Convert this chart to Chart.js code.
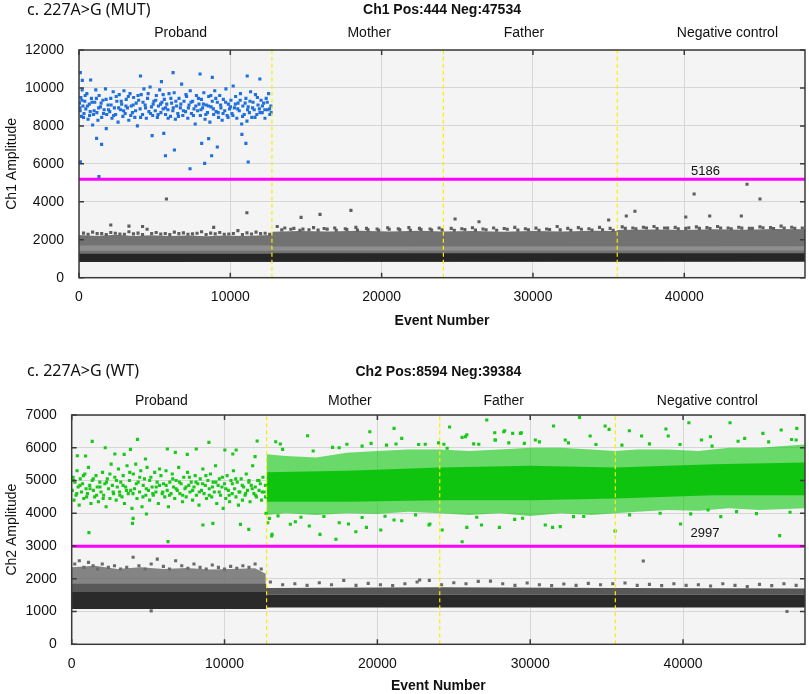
<!DOCTYPE html>
<html>
<head>
<meta charset="utf-8">
<title>c. 227A>G ddPCR</title>
<script src="https://cdn.jsdelivr.net/npm/chart.js@4.4.1/dist/chart.umd.min.js"></script>
<style>
    body { margin: 0; background: #fff; }
    canvas { position: absolute; left: 0; }
    #ch1 { top: 0; }
    #ch2 { top: 340px; }
</style>
</head>
<body>
<canvas id="ch1" width="809" height="340"></canvas>
<canvas id="ch2" width="809" height="354"></canvas>
<script>
const eventMax = 47978;
const dividers = [12750, 24080, 35570];
const sections = ["Proband", "Mother", "Father", "Negative control"];
const xTickValues = [0, 10000, 20000, 30000, 40000];
const ch1TickValues = [0, 2000, 4000, 6000, 8000, 10000, 12000];
const ch2TickValues = [0, 1000, 2000, 3000, 4000, 5000, 6000, 7000];
const ch1Threshold = 5186;
const ch2Threshold = 2997;
const ch1Label = "c. 227A>G (MUT)";
const ch2Label = "c. 227A>G (WT)";
const ch1Title = "Ch1 Pos:444 Neg:47534";
const ch2Title = "Ch2 Pos:8594 Neg:39384";

// Ch1 positive droplets (blue)
const ch1Positive = [
    [30,9200],[80,8800],[120,9500],[160,8500],[210,9900],[260,9050],[330,8650],[380,9300],[450,8900],[520,9700],[600,8350],[680,9150],[740,8750],[820,9450],[900,8050],[960,8600],
    [1040,9250],[1110,9900],[1180,8700],[1250,8300],[1330,9600],[1420,9000],[1500,8450],[1580,9350],[1660,8850],[1750,9950],[1830,8600],[1920,9100],
    [2030,8750],[2100,9450],[2180,8400],[2260,9800],[2340,8950],[2420,8600],[2500,9300],[2580,8200],[2660,9650],[2740,8850],[2820,9150],[2900,8500],[2970,9850],
    [3050,8650],[3120,9400],[3200,8950],[3290,8300],[3370,9700],[3450,9050],[3530,8700],[3610,9500],[3690,8450],[3780,9200],[3860,8000],[3940,9350],
    [4040,8900],[4110,9650],[4200,8600],[4290,9950],[4370,9100],[4450,8400],[4530,9450],[4620,8750],[4700,10050],[4790,9000],[4870,8550],[4950,9300],
    [5040,8800],[5110,9600],[5180,8450],[5250,9050],[5330,9900],[5410,8700],[5480,9250],[5560,8900],[5640,9400],[5720,8600],[5800,9150],[5880,8850],[5950,9700],
    [6050,8500],[6120,9200],[6200,8800],[6290,9750],[6370,8350],[6450,9050],[6530,8650],[6610,9450],[6700,8950],[6780,10200],[6860,8550],[6940,9300],
    [7040,8750],[7110,9550],[7190,8400],[7270,9100],[7350,9850],[7430,8650],[7510,9300],[7600,8900],[7680,8100],[7760,9600],[7840,8800],[7930,9150],
    [8020,8550],[8090,9400],[8170,8950],[8250,9750],[8330,8350],[8410,9100],[8490,8700],[8570,9550],[8650,8200],[8730,9000],[8810,9300],[8900,8600],[8970,9850],
    [9060,8750],[9140,9250],[9220,8450],[9300,9600],[9380,8950],[9460,8300],[9540,9400],[9630,8800],[9710,9950],[9790,8550],[9870,9150],[9950,8900],
    [10040,9350],[10110,8650],[10190,10100],[10270,8950],[10350,9550],[10430,8400],[10510,9200],[10590,8800],[10670,9700],[10750,8100],[10830,9050],[10920,8600],
    [11030,9450],[11100,8250],[11180,9000],[11260,8700],[11340,9800],[11420,8450],[11500,9250],[11580,8850],[11660,9650],[11750,8600],[11830,9100],[11920,8900],
    [12030,9350],[12110,8700],[12200,9200],[12290,8400],[12370,9450],[12450,8850],[12530,9700],[12610,8600],[12680,9050],
    [60,8950],[190,9350],[300,8450],[410,9600],[560,9050],[700,8550],[860,9250],[1000,8800],[1150,9450],[1300,8950],[1460,9200],[1620,8650],
    [1790,9400],[1950,8850],[2120,9100],[2290,8550],[2460,9550],[2620,8950],[2790,9300],[2950,8800],[3100,9050],[3260,9550],[3420,8550],
    [3580,9100],[3740,8800],[3900,9600],[4070,8450],[4230,9250],[4400,8950],[4570,9700],[4730,8650],[4900,9150],[5070,9350],[5230,8600],
    [5390,9150],[5560,9650],[5720,8950],[5890,8400],[6070,9450],[6230,8950],[6400,9300],[6570,8500],[6730,9150],[6900,8800],[7070,9650],
    [7230,8950],[7400,9250],[7560,8550],[7720,9050],[7890,9450],[8060,8850],[8220,9150],[8380,8600],[8550,9050],[8710,9600],[8880,8900],
    [9040,9450],[9200,8700],[9360,9100],[9520,8650],[9690,9250],[9850,8450],[10010,9000],[10170,8550],[10330,9150],[10490,8900],[10650,9350],
    [10810,8500],[10980,9200],[11140,8850],[11300,9300],[11470,8950],[11630,8450],[11790,9500],[11960,8700],[12120,9050],[12280,8850],
    [12440,9250],[12600,8900],[12700,8700],
    [90,6114],[1318,5324],[1494,7028],[1164,7344],[1802,7854],[4833,7485],[5712,6430],[6305,6729],[5602,7608],[7338,5745],
    [8107,7080],[8305,6026],[8568,7327],[8766,6430],[9140,6887],[11029,7080],[11183,6097],[10765,7555],[90,10806],[6217,10806],
    [8000,10735],[11117,10630],[4064,10630],[220,10400],[769,10419],[5448,10331],[8810,10560],[11952,10472]
];

// Ch1 negative droplets above the main band, plus the ragged top of the band
const ch1NegativeStray = [
    [5778,4147],[11095,3426],[14676,3180],[15928,3338],[17971,3549],[40650,4411],[44146,4922],[45003,4148],[36738,3499],[36168,3252],
    [40099,3199],[41681,3252],[43770,3252],[24852,3094],[26434,2952],[35003,3041],[4200,2700],[8900,2650],[2100,2780],[3300,2720],
    [300,2350],[900,2400],[1500,2320],[2100,2380],[2700,2300],[3300,2420],[3900,2350],[4500,2550],[5100,2380],[5700,2330],[6300,2400],
    [6900,2360],[7500,2310],[8100,2420],[8700,2350],[9300,2380],[9900,2300],[10500,2480],[11100,2360],[11700,2400],[12300,2340],
    [600,2290],[1200,2320],[1800,2280],[2400,2340],[3000,2290],[3600,2310],[4200,2280],[4800,2330],[5400,2300],[6000,2270],[6600,2320],
    [7200,2290],[7800,2340],[8400,2280],[9000,2310],[9600,2290],[10200,2330],[10800,2280],[11400,2300],[12000,2320],[12600,2290],
    [13100,2700],[13600,2620],[14200,2600],[14800,2560],[15500,2640],[16200,2590],[16900,2620],[17600,2580],[18300,2650],[19000,2600],
    [19700,2570],[20400,2630],[21100,2580],[21800,2640],[22500,2600],[23200,2570],[23800,2620],
    [24600,2600],[25300,2580],[26000,2630],[26700,2570],[27400,2620],[28100,2590],[28800,2650],[29500,2580],[30200,2610],[30900,2570],
    [31600,2700],[32300,2600],[33000,2640],[33700,2580],[34400,2650],[35100,2600],
    [13400,2520],[14000,2550],[14600,2500],[15200,2530],[15800,2510],[16400,2560],[17000,2500],[17700,2540],[18400,2510],[19100,2530],
    [19800,2500],[20500,2550],[21200,2520],[21900,2500],[22600,2540],[23300,2510],[24000,2520],[24800,2500],[25500,2540],[26200,2510],
    [26900,2530],[27600,2500],[28300,2550],[29000,2510],[29700,2530],[30400,2500],[31100,2540],[31800,2520],[32500,2500],[33200,2550],
    [33900,2510],[34600,2530],[35300,2500],
    [35900,2680],[36600,2620],[37300,2660],[38000,2700],[38700,2620],[39400,2650],[40100,2600],[40800,2680],[41500,2640],[42200,2700],
    [42900,2620],[43600,2660],[44300,2600],[45000,2680],[45700,2640],[46400,2720],[47100,2660],[47800,2620],
    [36100,2600],[36800,2580],[37500,2620],[38200,2590],[38900,2610],[39600,2580],[40300,2630],[41000,2600],[41700,2590],[42400,2620],
    [43100,2580],[43800,2610],[44500,2600],[45200,2630],[45900,2590],[46600,2620],[47300,2600]
];

// Ch1 dense negative cloud, as band edges
const ch1GrayTop = [[0,2250],[1200,2200],[2400,2260],[3600,2200],[4800,2240],[6000,2200],[7200,2230],[8400,2190],[9600,2230],[10800,2200],[12700,2250],
    [12800,2420],[14500,2460],[16500,2430],[18500,2470],[20500,2440],[22500,2470],[24000,2430],[26000,2460],[28000,2420],[30000,2460],
    [32000,2440],[34000,2480],[35500,2460],[35600,2520],[38000,2540],[40000,2510],[42000,2550],[44000,2530],[46000,2570],[47978,2550]];
const ch1GrayBase = [[0,1250],[47978,1250]];
const ch1GapTop = [[0,1700],[12750,1700],[12800,1640],[47978,1660]];
const ch1GapBase = [[0,1420],[47978,1440]];
const ch1CoreTop = [[0,1260],[12750,1260],[12800,1290],[47978,1290]];
const ch1CoreBase = [[0,830],[47978,840]];

// Ch2 positive droplets in the proband panel (green)
const ch2ProbandPositive = [
    [40,4700],[90,5100],[150,4400],[210,4950],[280,4550],[350,5300],[420,4800],[490,4250],[560,5050],[640,4650],[710,4900],[790,4450],[860,5200],[940,4750],
    [1030,4600],[1100,5400],[1180,4850],[1260,4300],[1340,5000],[1420,4700],[1500,4500],[1590,5150],[1670,4800],[1750,4350],[1840,4950],[1920,4650],
    [2020,5250],[2090,4550],[2170,4900],[2250,4200],[2330,5050],[2410,4750],[2500,4450],[2580,5500],[2660,4850],[2740,4600],[2820,5100],[2910,4400],[2980,4800],
    [3060,5350],[3130,4650],[3210,4950],[3290,4500],[3370,5150],[3450,4300],[3530,4800],[3620,5450],[3700,4600],[3780,5000],[3860,4700],[3940,4150],
    [4030,5200],[4110,4750],[4190,5500],[4270,4450],[4350,4950],[4440,4650],[4520,5300],[4600,4200],[4680,4850],[4760,5050],[4850,4550],[4930,5400],
    [5020,4700],[5100,4400],[5180,5100],[5260,4800],[5340,4550],[5430,5250],[5510,4650],[5590,4950],[5670,4300],[5750,4850],[5840,5150],[5920,4600],
    [6010,4900],[6090,4500],[6170,5300],[6250,4700],[6330,4200],[6420,4950],[6500,4600],[6580,5200],[6660,4800],[6740,4450],[6830,5000],[6910,4700],
    [7000,5400],[7080,4600],[7160,4900],[7250,4350],[7330,5100],[7410,4750],[7490,4500],[7580,5250],[7660,4850],[7740,4650],[7820,4950],[7910,4400],
    [8000,4800],[8080,5150],[8160,4550],[8250,4900],[8330,4250],[8410,5050],[8490,4700],[8580,5350],[8660,4600],[8740,4850],[8820,4450],[8910,5000],
    [9000,4750],[9080,5200],[9160,4500],[9250,4950],[9330,4650],[9410,5450],[9490,4300],[9580,4850],[9660,5050],[9740,4550],[9830,4800],[9910,4150],
    [10000,4900],[10080,4450],[10170,5150],[10250,4700],[10330,4350],[10420,5000],[10500,4600],[10580,5300],[10660,4750],[10750,4500],[10830,4950],[10910,4250],
    [11000,4650],[11090,5050],[11170,4400],[11250,4800],[11340,4550],[11420,5200],[11500,4700],[11590,4950],[11670,4350],[11750,4850],[11840,5450],[11920,4600],
    [12010,4800],[12090,4500],[12170,5000],[12260,4700],[12340,4900],[12420,4400],[12510,5100],[12590,4650],[12670,4850],
    [120,5000],[330,4600],[540,4850],[760,5150],[980,4500],[1200,4750],[1410,5050],[1630,4550],[1850,4800],[2060,4450],[2280,4950],
    [2500,5200],[2710,4650],[2930,5000],[3150,4550],[3360,4850],[3580,4700],[3800,5250],[4010,4600],[4230,4900],[4450,5100],[4660,4500],
    [4880,4750],[5100,5000],[5310,4600],[5530,4800],[5750,5350],[5960,4650],[6180,4850],[6400,4550],[6610,5050],[6830,4750],[7050,4950],
    [7260,4550],[7480,4800],[7700,5100],[7910,4700],[8130,4950],[8350,4650],[8560,4900],[8780,5150],[9000,4550],[9210,4800],[9430,4950],
    [9650,4650],[9860,5100],[10080,4750],[10300,4550],[10510,4900],[10730,5050],[10950,4650],[11160,4850],[11380,4600],[11600,5000],
    [11810,4750],[12030,4550],[12250,5000],[12460,4650],[12680,4500],
    [367,5758],[910,5748],[2193,6002],[2823,5809],[3432,5799],[3845,5951],[4823,5656],[6258,5962],[6780,5860],[7562,5799],
    [8149,5962],[10019,5931],[10541,5809],[10758,5931],[11998,5728],[1345,6196],[4305,6257],[8977,6165],[12134,6206],
    [1128,3408],[3976,3693],[4019,3845],[4889,3978],[6301,3133],[8584,3642],[9237,3693],[11041,3662],[11585,3509],[12715,3998]
];

// Ch2 positives spilling outside the dense cloud (mother, father, control)
const ch2PositiveStray = [
    [15435,6368],[13347,6185],[13653,6114],[19504,6490],[21090,6593],[21592,6288],[21220,6114],[19589,6135],[18004,6105],[17065,6013],
    [24723,6633],[25545,6318],[25851,6398],[27156,6847],[27678,6459],[28265,6490],[28852,6440],[29420,6459],[29615,6135],[27698,6236],
    [26634,6105],[24352,6105],[23132,6105],[24567,5983],[33223,6929],[31527,6664],[28330,6520],[29354,6440],[34900,6664],[35161,6562],
    [36485,6520],[37287,6358],[38880,6572],[40379,6765],[43073,6765],[45225,6440],[46420,6541],[47443,6593],[44031,6288],[41790,6338],
    [41203,6236],[39030,6358],[33921,6358],[32290,6236],[30333,6236],[27722,6236],[25767,6338],[47400,6236],
    [13106,3357],[12933,3845],[12825,3712],[13086,3306],[17287,3205],[16243,3357],[14306,3663],[14632,3743],[15545,3611],[17502,3712],
    [18109,3672],[18590,3437],[19283,3571],[20222,3489],[21090,3794],[21592,3773],[23373,3642],[24241,3489],[25545,3132],[25851,3571],
    [26810,3642],[27984,3571],[28982,3815],[23438,3672],[30985,3642],[31462,3571],[31962,3591],[32831,3896],[35552,3459],[39838,3672],
    [41637,4100],[42466,3896],[46317,3316],
    [13500,3920],[15000,3880],[16500,3900],[19000,3870],[20500,3910],[22500,3950],[26500,3880],[29500,3850],[33500,3900],[36500,3950],
    [38500,4000],[40500,3980],[43500,4050],[44800,3990],[47000,4030],
    [13800,5950],[15800,5900],[17500,6000],[19000,6050],[20600,6080],[22700,6100],[24000,6150],[26300,6120],[28600,6150],[30600,6180],
    [32500,6150],[34300,6100],[36000,6080],[37800,6120],[39800,6100],[41900,6050],[43600,6200],[45600,6180],[47100,6250]
];

// Ch2 dense positive cloud, as band edges
const ch2GreenLow = [[12750,3950],[14000,4000],[16000,3950],[18000,4000],[20000,3980],[22000,4050],[24080,4000],[26000,3950],[28000,4000],[30000,3920],
    [32000,4000],[34000,3950],[35570,4000],[37000,4050],[39000,4100],[41000,4080],[43000,4150],[45000,4100],[47978,4150]];
const ch2GreenHigh = [[12750,5800],[14000,5750],[16000,5700],[18000,5850],[20000,5900],[22000,5950],[24080,5950],[26000,5900],[28000,5950],[30000,6000],
    [32000,6000],[34000,5950],[35570,5900],[37000,5950],[39000,5950],[41000,5900],[43000,6000],[45000,6000],[47978,6100]];
const ch2GreenCoreLow = [[12750,4350],[18000,4350],[24080,4400],[30000,4400],[35570,4450],[42000,4550],[47978,4550]];
const ch2GreenCoreHigh = [[12750,5250],[18000,5300],[24080,5400],[30000,5450],[35570,5400],[42000,5500],[47978,5550]];

// Ch2 negatives
const ch2NegativeStray = [
    [4018,2656],[22766,1963],[37398,2543],[5200,1020],[46800,1000],
    [200,2450],[500,2550],[800,2350],[1100,2500],[1400,2400],[1700,2300],[2000,2450],[2400,2350],[2800,2400],[3200,2300],[3600,2350],
    [4400,2400],[4800,2300],[5200,2450],[5600,2600],[6000,2380],[6400,2300],[6800,2550],[7200,2400],[7600,2320],[8000,2450],[8400,2350],
    [8800,2300],[9200,2420],[9600,2350],[10000,2300],[10400,2380],[10800,2320],[11200,2400],[11600,2350],[12000,2450],[12400,2300],
    [13000,1900],[13800,1820],[14600,1850],[15400,1800],[16200,1880],[17000,1820],[17800,1950],[18600,1800],[19400,1860],[20200,1820],
    [21000,1790],[21800,1850],[22600,1900],[23400,1950],[24200,1820],[25000,1880],[25800,1850],[26600,1920],[27400,1930],[28200,1850],
    [29000,1800],[29800,1870],[30600,1820],[31400,1790],[32200,1840],[33000,1800],[33800,1860],[34600,1820],[35400,1850],[36200,1870],
    [37000,1800],[37800,1830],[38600,1790],[39400,1850],[40200,1800],[41000,1820],[41800,1780],[42600,1850],[43400,1800],[44200,1760],
    [45000,1830],[45800,1790],[46600,1850],[47400,1800]
];
const ch2UpperTop = [[0,2350],[1500,2400],[3000,2300],[4500,2350],[6000,2300],[7500,2330],[9000,2280],[10500,2300],[12000,2320],[12700,2150]];
const ch2UpperBase = [[0,1840],[12700,1840]];
const ch2MidTop = [[0,1850],[12700,1850],[12800,1720],[24080,1740],[35570,1720],[47978,1700]];
const ch2CoreTop = [[0,1600],[12700,1600],[12800,1520],[47978,1520]];
const ch2CoreBase = [[0,1080],[12700,1080],[12800,1120],[47978,1120]];

Chart.defaults.font.family = '"Liberation Sans", Arial, sans-serif';
Chart.defaults.color = "#111";

function toXY(pairs) {
    return pairs.map(p => ({ x: p[0], y: p[1] }));
}

function dots(pairs, color) {
    return {
        data: toXY(pairs),
        pointStyle: "rect",
        pointRadius: 2.2,
        pointBorderWidth: 0,
        pointBackgroundColor: color,
        order: 5
    };
}

function band(base, top, color, order) {
    let edge = {
        type: "line", showLine: true, borderWidth: 0, pointRadius: 0, tension: 0, fill: false, order: order
    };
    return [
        Object.assign({ data: toXY(base) }, edge),
        Object.assign({}, edge, { data: toXY(top), fill: "-1", backgroundColor: color })
    ];
}

function rule(points, color, width, dash, order) {
    return {
        type: "line", showLine: true, data: toXY(points), borderColor: color, borderWidth: width,
        borderDash: dash, pointRadius: 0, fill: false, order: order
    };
}

function dividerLines(yMax) {
    return dividers.map(d => rule([[d, 0], [d, yMax]], "#f2f200", 1.2, [4, 3], 2));
}

const ddpcrText = {
    id: "ddpcrText",
    beforeDraw(chart) {
        const { ctx, chartArea: a } = chart;
        ctx.save();
        ctx.fillStyle = "#f4f4f4";
        ctx.fillRect(a.left, a.top, a.right - a.left, a.bottom - a.top);
        ctx.restore();
    },
    afterDraw(chart, args, opts) {
        const { ctx, chartArea: a } = chart;
        const x = chart.scales.x, y = chart.scales.y;
        const mid = (a.left + a.right) / 2;
        ctx.save();

        ctx.strokeStyle = "#3a3a3a";
        ctx.lineWidth = 1.5;
        ctx.strokeRect(a.left, a.top, a.right - a.left, a.bottom - a.top);
        ctx.beginPath();
        x.ticks.forEach(t => {
            let px = x.getPixelForValue(t.value);
            ctx.moveTo(px, a.bottom); ctx.lineTo(px, a.bottom - 5);
            ctx.moveTo(px, a.top); ctx.lineTo(px, a.top + 5);
        });
        y.ticks.forEach(t => {
            let py = y.getPixelForValue(t.value);
            ctx.moveTo(a.left, py); ctx.lineTo(a.left + 5, py);
            ctx.moveTo(a.right, py); ctx.lineTo(a.right - 5, py);
        });
        ctx.stroke();

        ctx.fillStyle = "#111";
        ctx.textBaseline = "middle";
        ctx.textAlign = "left";
        ctx.font = '16px "Noto Sans"';
        ctx.fillText(opts.label, 27, opts.titleY);

        ctx.textAlign = "center";
        ctx.font = 'bold 14px "Liberation Sans"';
        ctx.fillText(opts.title, mid, opts.titleY);
        ctx.fillText("Event Number", mid, a.bottom + opts.xTitleGap);

        ctx.font = '14px "Liberation Sans"';
        sections.forEach((s, i) => ctx.fillText(s, x.getPixelForValue(opts.sectionX[i]), opts.sectionY));

        ctx.font = '13px "Liberation Sans"';
        ctx.fillText(String(opts.threshold), x.getPixelForValue(opts.thresholdX), y.getPixelForValue(opts.threshold) - opts.thresholdLift);

        ctx.translate(12, (a.top + a.bottom) / 2);
        ctx.rotate(-Math.PI / 2);
        ctx.font = '14px "Liberation Sans"';
        ctx.fillText(opts.yTitle, 0, 0);
        ctx.restore();
    }
};

function buildChart(id, cfg) {
    return new Chart(document.getElementById(id), {
        type: "scatter",
        data: { datasets: cfg.datasets },
        options: {
            responsive: false,
            animation: false,
            events: [],
            layout: { padding: { top: cfg.top, right: 2, left: 0, bottom: 0 } },
            plugins: { legend: { display: false }, tooltip: { enabled: false }, ddpcrText: cfg.text },
            scales: {
                x: {
                    type: "linear", min: 0, max: eventMax,
                    afterFit: s => { s.height = cfg.xHeight; },
                    afterBuildTicks: s => { s.ticks = xTickValues.map(v => ({ value: v })); },
                    grid: { color: "#d6d6d6", drawTicks: false },
                    border: { display: false },
                    ticks: { padding: 11, font: { size: 14 }, color: "#111", callback: v => String(v) }
                },
                y: {
                    type: "linear", min: 0, max: cfg.yMax,
                    afterFit: s => { s.width = cfg.yWidth; },
                    afterBuildTicks: s => { s.ticks = cfg.yTicks.map(v => ({ value: v })); },
                    grid: { color: "#d6d6d6", drawTicks: false },
                    border: { display: false },
                    ticks: { padding: 15, font: { size: 14 }, color: "#111", callback: v => String(v) }
                }
            }
        },
        plugins: [ddpcrText]
    });
}

buildChart("ch1", {
    top: 50, xHeight: 62.3, yWidth: 79, yMax: 12000, yTicks: ch1TickValues,
    datasets: [
        rule([[0, ch1Threshold], [eventMax, ch1Threshold]], "#ff00ff", 3, [], 1),
        ...dividerLines(12000),
        dots(ch1Positive, "#1f6fdc"),
        dots(ch1NegativeStray, "#5e5e5e"),
        ...band(ch1GrayBase, ch1GrayTop, "#727272", 30),
        ...band(ch1GapBase, ch1GapTop, "#8e8e8e", 29),
        ...band(ch1CoreBase, ch1CoreTop, "#262626", 28)
    ],
    text: {
        label: ch1Label, title: ch1Title, titleY: 10, sectionY: 33,
        sectionX: [6720, 19180, 29400, 42850], xTitleGap: 43,
        threshold: ch1Threshold, thresholdX: 41400, thresholdLift: 8, yTitle: "Ch1 Amplitude"
    }
});

buildChart("ch2", {
    top: 75, xHeight: 49.7, yWidth: 71.7, yMax: 7000, yTicks: ch2TickValues,
    datasets: [
        rule([[0, ch2Threshold], [eventMax, ch2Threshold]], "#ff00ff", 3, [], 1),
        ...dividerLines(7000),
        dots(ch2ProbandPositive, "#19c919"),
        dots(ch2PositiveStray, "#19c919"),
        dots(ch2NegativeStray, "#6a6a6a"),
        ...band(ch2GreenLow, ch2GreenHigh, "rgba(20,200,20,0.62)", 31),
        ...band(ch2GreenCoreLow, ch2GreenCoreHigh, "#0fc40f", 30),
        ...band(ch2UpperBase, ch2UpperTop, "rgba(112,112,112,0.85)", 29),
        ...band(ch2CoreTop, ch2MidTop, "#585858", 28),
        ...band(ch2CoreBase, ch2CoreTop, "#2a2a2a", 27)
    ],
    text: {
        label: ch2Label, title: ch2Title, titleY: 31.7, sectionY: 60.7,
        sectionX: [5870, 18200, 28265, 41590], xTitleGap: 42,
        threshold: ch2Threshold, thresholdX: 41440, thresholdLift: 13, yTitle: "Ch2 Amplitude"
    }
});
</script>
</body>
</html>
